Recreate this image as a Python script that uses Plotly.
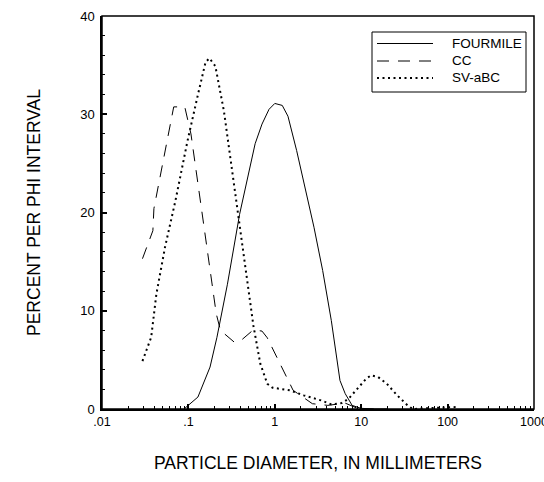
import plotly.graph_objects as go

# Particle-size distributions (diameter in mm, percent per phi interval)
fourmile_d = [0.089, 0.129, 0.178, 0.214, 0.283, 0.391, 0.592, 0.711, 0.857, 1.0, 1.22,
              1.42, 1.79, 2.84, 3.58, 4.51, 5.68, 6.53, 7.85, 9.89, 14.0, 20.0]
fourmile_p = [0.0, 1.22, 4.27, 7.3, 12.7, 19.8, 27.0, 29.0, 30.5, 31.1, 30.9,
              29.8, 26.3, 18.5, 14.1, 9.0, 2.9, 1.56, 0.37, 0.07, 0.0, 0.0]

cc_d = [0.0294, 0.0388, 0.0399, 0.0676, 0.0908, 0.107, 0.210, 0.235, 0.340, 0.409,
        0.565, 0.711, 0.818, 1.36, 1.63, 2.72, 4.11, 6.53, 9.44, 14.0]
cc_p = [15.3, 18.15, 20.4, 30.75, 30.75, 28.0, 9.7, 8.0, 6.8, 7.0,
        8.06, 7.93, 7.25, 3.25, 1.9, 0.54, 0.37, 0.6, 0.0, 0.0]

sv_d = [0.0294, 0.0371, 0.0426, 0.0537, 0.0708, 0.0977, 0.129, 0.158, 0.175, 0.205,
        0.258, 0.340, 0.429, 0.565, 0.680, 0.818, 0.940, 1.49, 2.16, 3.42,
        4.51, 5.95, 7.16, 8.61, 11.4, 13.0, 15.7, 19.8, 26.1, 34.4,
        39.5, 65.6, 104.0, 125.0]
sv_p = [4.88, 7.3, 11.7, 16.5, 21.2, 27.3, 32.0, 35.3, 35.7, 34.9,
        30.3, 22.6, 15.8, 8.5, 4.6, 2.57, 2.17, 1.9, 1.39, 0.88,
        0.47, 0.61, 1.05, 1.9, 3.08, 3.42, 3.25, 2.57, 1.39, 0.37,
        0.0, 0.1, 0.2, 0.2]

series_names = ["FOURMILE", "CC", "SV-aBC"]
series_d = [fourmile_d, cc_d, sv_d]
series_p = [fourmile_p, cc_p, sv_p]
series_style = [
    dict(color="black", width=1),
    dict(color="black", width=1, dash="12px,9px"),
    dict(color="black", width=2, dash="2px,3.5px"),
]

# decade labels written without the leading zero
x_label_alias = {"0.01": ".01", "0.1": ".1"}

FONT = "Liberation Sans, Arial, sans-serif"
W, H = 544, 482
ML, MR, MT, MB = 102, 10, 16, 73

fig = go.Figure()
for name, d, p, style in zip(series_names, series_d, series_p, series_style):
    fig.add_trace(go.Scatter(x=d, y=p, mode="lines", name=name, line=style,
                             showlegend=False))

# Key box drawn in paper pixels: sample line + label for each series
def px_x(v):
    return (v - ML) / (W - ML - MR)

def px_y(v):
    return (H - MB - v) / (H - MT - MB)

# frame around the plot area
fig.add_shape(type="rect", xref="paper", yref="paper", x0=0, x1=1, y0=0, y1=1,
              line=dict(color="black", width=1.5), fillcolor="rgba(0,0,0,0)",
              layer="above")

fig.add_shape(type="rect", xref="paper", yref="paper",
              x0=px_x(372), x1=px_x(526), y0=px_y(32), y1=px_y(92),
              line=dict(color="black", width=1), fillcolor="white", layer="above")
key_rows = [43.5, 61, 78]
for name, style, row in zip(series_names, series_style, key_rows):
    fig.add_shape(type="line", xref="paper", yref="paper",
                  x0=px_x(377), x1=px_x(433), y0=px_y(row), y1=px_y(row),
                  line=style, layer="above")
    fig.add_annotation(xref="paper", yref="paper", x=px_x(450), y=px_y(row),
                       xanchor="left", yanchor="middle", text=name, showarrow=False,
                       font=dict(size=13.5, family=FONT, color="black"))

fig.update_layout(
    width=W, height=H,
    margin=dict(l=ML, r=MR, t=MT, b=MB, autoexpand=False),
    paper_bgcolor="white", plot_bgcolor="white",
    font=dict(family=FONT, color="black", size=12),
    showlegend=False,
)
fig.update_xaxes(
    type="log", range=[-2, 3], automargin=False,
    dtick=1, labelalias=x_label_alias,
    ticks="inside", ticklen=5, tickwidth=1.5, tickcolor="black",
    minor=dict(ticks="inside", ticklen=3, tickwidth=1.2, dtick="D1", tickcolor="black"),
    showline=True, linecolor="black", linewidth=2,
    zeroline=False, gridcolor="white", ticklabeloverflow="allow",
    tickfont=dict(size=12.5),
    title=dict(text="PARTICLE DIAMETER, IN MILLIMETERS", font=dict(size=17.5), standoff=29),
)
fig.update_yaxes(
    range=[0, 40], dtick=10, automargin=False,
    ticks="inside", ticklen=5, tickwidth=1.5, tickcolor="black",
    minor=dict(ticks="inside", ticklen=3, tickwidth=1.2, dtick=2, tickcolor="black"),
    showline=True, linecolor="black", linewidth=1.5,
    zeroline=False, gridcolor="white", ticklabelstandoff=3,
    tickfont=dict(size=13),
    title=dict(text="PERCENT PER PHI INTERVAL", font=dict(size=17.5), standoff=35),
)

fig.write_html("out.html")
